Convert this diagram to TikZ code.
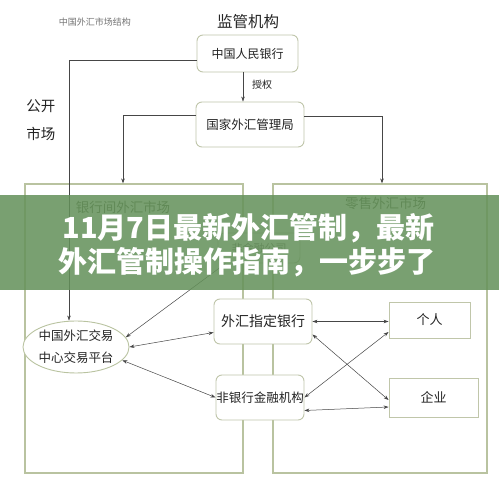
\documentclass[tikz,border=0pt]{standalone}
\usepackage{fontspec}
\newfontfamily\cjk{Noto Sans CJK SC}
\usetikzlibrary{arrows.meta,shapes.geometric}
\definecolor{boxline}{RGB}{192,198,170}
\definecolor{outerline}{RGB}{185,195,160}
\definecolor{conn}{RGB}{70,70,70}
\definecolor{txt}{RGB}{35,35,35}
\definecolor{labgreen}{RGB}{80,95,70}
\definecolor{banner}{RGB}{100,145,90}
\tikzset{
  rbox/.style={draw=boxline, line width=0.9pt, rounded corners=6pt, fill=white, text=txt, inner sep=0pt},
  sbox/.style={draw=boxline, line width=0.9pt, fill=white, text=txt, inner sep=0pt},
  outer/.style={draw=outerline, line width=1.2pt, inner sep=0pt},
  conline/.style={draw=conn, line width=0.5pt},
  onearrow/.style={conline, -{Stealth[length=5pt,width=3.5pt]}},
  twoarrow/.style={conline, {Stealth[length=5pt,width=3.5pt]}-{Stealth[length=5pt,width=3.5pt]}},
  lab/.style={text=txt, inner sep=0pt},
}
\begin{document}
\begin{tikzpicture}[x=1pt,y=-1pt]
\useasboundingbox[fill=white] (0,0) rectangle (499,486);
% outer market boxes
\node[outer, minimum width=218pt, minimum height=289pt] (ib) at (134,328.5) {};
\node[outer, minimum width=214pt, minimum height=289pt] (rt) at (380,328.5) {};
\node[lab, text=labgreen, font=\cjk\fontsize{13.5}{14}\selectfont] (ibl) at (123,207) {银行间外汇市场};
\node[lab, text=labgreen, font=\cjk\fontsize{13.5}{14}\selectfont] (rtl) at (385.5,203) {零售外汇市场};
% top labels
\node[lab, text=black!55, font=\cjk\fontsize{9}{10}\selectfont] (title) at (95,22) {中国外汇市场结构};
\node[lab, text=black!85, font=\cjk\fontsize{15.5}{16}\selectfont] (jg) at (248,22) {监管机构};
\node[lab, font=\cjk\fontsize{14.5}{28}\selectfont, align=center] (gk) at (41,120) {公开\\市场};
% regulators
\node[rbox, minimum width=101pt, minimum height=37pt, font=\cjk\fontsize{12}{13}\selectfont] (pboc) at (247.5,53.5) {中国人民银行};
\node[rbox, minimum width=108pt, minimum height=45pt, font=\cjk\fontsize{12.5}{13}\selectfont] (safe) at (250,124.5) {国家外汇管理局};
\node[lab, font=\cjk\fontsize{10}{11}\selectfont] (sq) at (262,85) {授权};
% market participants
\node[rbox, minimum width=82pt, minimum height=30pt, font=\cjk\fontsize{11}{12}\selectfont, text=black!60] (fjr) at (259,248) {非金融公司};
\node[ellipse, draw=outerline, line width=0.9pt, fill=white, minimum width=102pt, minimum height=52pt, inner sep=0pt, align=center, text=txt, font=\cjk\fontsize{12.5}{22}\selectfont] (ell) at (76,347) {中国外汇交易\\中心交易平台};
\node[rbox, minimum width=98pt, minimum height=45pt, font=\cjk\fontsize{14}{15}\selectfont] (bank) at (263,321.5) {外汇指定银行};
\node[rbox, minimum width=88pt, minimum height=45pt, font=\cjk\fontsize{12.5}{13}\selectfont] (nb) at (260,397.5) {非银行金融机构};
\node[sbox, minimum width=81pt, minimum height=36pt, font=\cjk\fontsize{13}{14}\selectfont] (ger) at (429.5,320) {个人};
\node[sbox, minimum width=89pt, minimum height=39pt, font=\cjk\fontsize{13}{14}\selectfont] (qy) at (433.5,397.5) {企业};
% connectors
\draw[onearrow] ([xshift=-4.5pt]pboc.south) -- ([xshift=-4.5pt]pboc.south |- safe.north);
\draw[onearrow] ([yshift=-6.5pt]pboc.west) -| ([xshift=-7pt]ell.north);
\draw[onearrow] ([yshift=9.5pt]safe.west) -| ([xshift=-11pt]ib.north);
\draw[onearrow] ([yshift=8.5pt]safe.east) -| ([xshift=2pt]rt.north);
\draw[twoarrow] (ell.11) -- ([xshift=8pt]fjr.south west);
\draw[twoarrow] (ell.east) -- ([yshift=-11pt]bank.west);
\draw[twoarrow] (ell.-16) -- (nb.west);
\draw[twoarrow] (bank.east) -- (bank.east -| ger.west);
\draw[twoarrow] ([yshift=-13pt]bank.east) -- ([yshift=-2.5pt]qy.west);
\draw[twoarrow] (nb.east) -- ([yshift=-12pt]ger.west);
\draw[twoarrow] ([yshift=-13pt]nb.east) -- ([yshift=-9.5pt]qy.west);
% banner overlay
\fill[banner, opacity=0.86] (0,195) rectangle (499,290);
\node[lab, text=white, font=\cjk\bfseries\fontsize{29}{30}\selectfont] (b1) at (248.5,228) {11月7日最新外汇管制，最新};
\node[lab, text=white, font=\cjk\bfseries\fontsize{29}{30}\selectfont] (b2) at (247,262) {外汇管制操作指南，一步步了};
\end{tikzpicture}
\end{document}
